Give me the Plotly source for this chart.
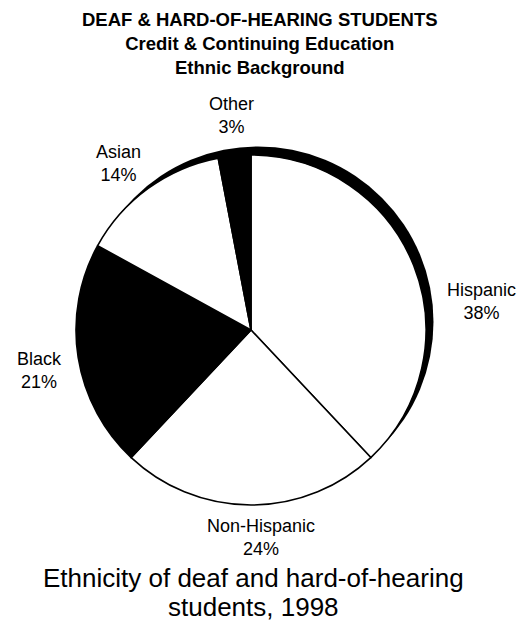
import plotly.graph_objects as go

# Ethnic background of deaf & hard-of-hearing students, 1998
groups = ["Hispanic", "Non-Hispanic", "Black", "Asian", "Other"]
shares = [38, 24, 21, 14, 3]
fills = ["white", "white", "black", "white", "black"]

W, H = 527, 626
FONT = "Liberation Sans, Arial, Helvetica, sans-serif"

# pie geometry in pixels
cx, cy, r = 251, 330, 175


def px(x):
    return x / W


def py(y):
    return 1 - y / H


fig = go.Figure()

fig.add_trace(go.Pie(
    labels=groups,
    values=shares,
    sort=False,
    direction="clockwise",
    rotation=0,
    marker=dict(colors=fills, line=dict(color="black", width=1.6)),
    textinfo="none",
    hoverinfo="label+percent",
    showlegend=False,
    domain=dict(x=[px(cx - r), px(cx + r)], y=[py(cy + r), py(cy - r)]),
))

# dark rim behind the pie, shifted up and to the right
dx, dy, grow = 7, 8, 0.5
fig.add_shape(
    type="circle", xref="paper", yref="paper", layer="below",
    x0=px(cx + dx - r - grow), x1=px(cx + dx + r + grow),
    y0=py(cy - dy + r + grow), y1=py(cy - dy - r - grow),
    fillcolor="black", line=dict(width=0),
)

# slice labels
label_pos = {
    "Hispanic": (481, 302),
    "Non-Hispanic": (261, 537),
    "Black": (39, 370),
    "Asian": (118, 163),
    "Other": (231, 116),
}
for g, s in zip(groups, shares):
    x, y = label_pos[g]
    fig.add_annotation(
        x=px(x), y=py(y), xref="paper", yref="paper",
        text=f"{g}<br>{s}%", showarrow=False,
        font=dict(family=FONT, size=18, color="black"),
        xanchor="center", yanchor="middle", align="center",
    )

# heading
fig.add_annotation(
    x=px(260), y=py(43), xref="paper", yref="paper",
    text="<b>DEAF & HARD-OF-HEARING STUDENTS</b><br><b>Credit & Continuing Education</b><br><b>Ethnic Background</b>",
    showarrow=False, font=dict(family=FONT, size=18.5, color="black"),
    xanchor="center", yanchor="middle", align="center",
)

# caption
caption = ["Ethnicity of deaf and hard-of-hearing", "students, 1998"]
for line, y in zip(caption, [578, 607]):
    fig.add_annotation(
        x=px(253), y=py(y), xref="paper", yref="paper",
        text=line, showarrow=False,
        font=dict(family=FONT, size=26, color="black"),
        xanchor="center", yanchor="middle",
    )

fig.update_layout(
    width=W, height=H,
    margin=dict(l=0, r=0, t=0, b=0),
    paper_bgcolor="white", plot_bgcolor="white",
)

fig.write_html("out.html")
